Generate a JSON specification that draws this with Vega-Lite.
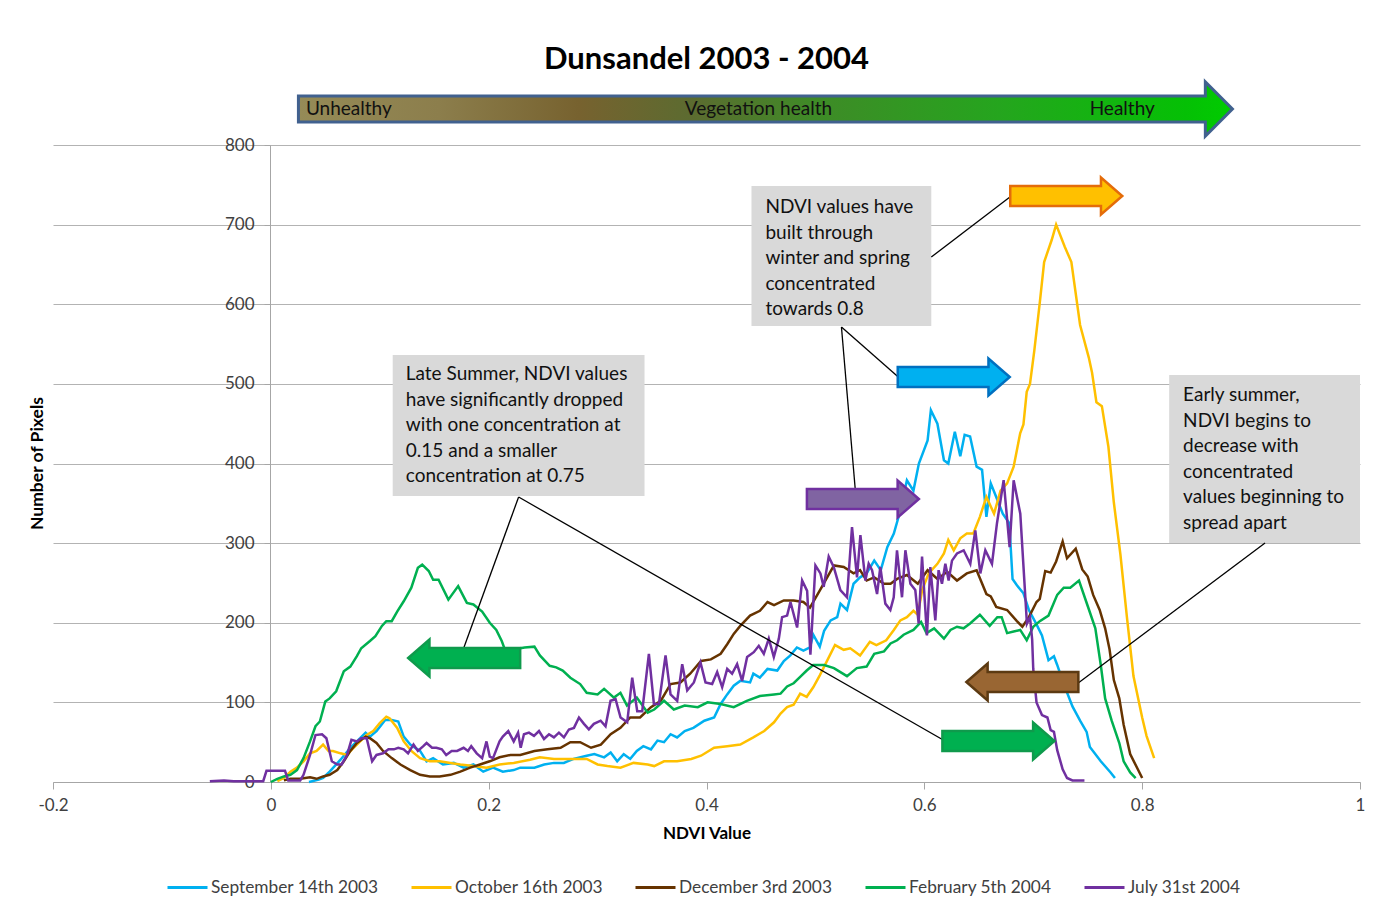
{
 "$schema": "https://vega.github.io/schema/vega-lite/v6.json",
 "width": 1307,
 "height": 637,
 "autosize": {"type": "none"},
 "padding": {"left": 53, "top": 145, "right": 40, "bottom": 130},
 "background": "white",
 "config": {"font": "Lato", "view": {"stroke": null}},
 "title": {"text": "Dunsandel 2003 - 2004", "fontSize": 31, "fontWeight": "bold", "font": "Lato", "color": "#000000", "anchor": "middle", "frame": "group", "offset": 0},
 "datasets": {
  "series": [
   {"s":"September 14th 2003","x":0.035,"y":0},{"s":"September 14th 2003","x":0.044,"y":3},{"s":"September 14th 2003","x":0.048,"y":5},{"s":"September 14th 2003","x":0.054,"y":13},{"s":"September 14th 2003","x":0.064,"y":28},{"s":"September 14th 2003","x":0.073,"y":43},{"s":"September 14th 2003","x":0.082,"y":55},{"s":"September 14th 2003","x":0.087,"y":62},{"s":"September 14th 2003","x":0.091,"y":57},{"s":"September 14th 2003","x":0.097,"y":64},{"s":"September 14th 2003","x":0.105,"y":78},{"s":"September 14th 2003","x":0.111,"y":78},{"s":"September 14th 2003","x":0.117,"y":76},{"s":"September 14th 2003","x":0.122,"y":57},{"s":"September 14th 2003","x":0.128,"y":47},{"s":"September 14th 2003","x":0.137,"y":39},{"s":"September 14th 2003","x":0.143,"y":26},{"s":"September 14th 2003","x":0.149,"y":30},{"s":"September 14th 2003","x":0.158,"y":22},{"s":"September 14th 2003","x":0.168,"y":24},{"s":"September 14th 2003","x":0.177,"y":18},{"s":"September 14th 2003","x":0.186,"y":22},{"s":"September 14th 2003","x":0.195,"y":13},{"s":"September 14th 2003","x":0.204,"y":18},{"s":"September 14th 2003","x":0.213,"y":13},{"s":"September 14th 2003","x":0.223,"y":15},{"s":"September 14th 2003","x":0.229,"y":18},{"s":"September 14th 2003","x":0.242,"y":18},{"s":"September 14th 2003","x":0.251,"y":22},{"s":"September 14th 2003","x":0.26,"y":24},{"s":"September 14th 2003","x":0.269,"y":24},{"s":"September 14th 2003","x":0.278,"y":29},{"s":"September 14th 2003","x":0.29,"y":33},{"s":"September 14th 2003","x":0.297,"y":35},{"s":"September 14th 2003","x":0.306,"y":31},{"s":"September 14th 2003","x":0.312,"y":37},{"s":"September 14th 2003","x":0.318,"y":26},{"s":"September 14th 2003","x":0.324,"y":35},{"s":"September 14th 2003","x":0.33,"y":29},{"s":"September 14th 2003","x":0.336,"y":39},{"s":"September 14th 2003","x":0.342,"y":45},{"s":"September 14th 2003","x":0.349,"y":41},{"s":"September 14th 2003","x":0.355,"y":52},{"s":"September 14th 2003","x":0.361,"y":50},{"s":"September 14th 2003","x":0.367,"y":60},{"s":"September 14th 2003","x":0.373,"y":56},{"s":"September 14th 2003","x":0.38,"y":64},{"s":"September 14th 2003","x":0.388,"y":68},{"s":"September 14th 2003","x":0.398,"y":77},{"s":"September 14th 2003","x":0.407,"y":81},{"s":"September 14th 2003","x":0.413,"y":98},{"s":"September 14th 2003","x":0.419,"y":110},{"s":"September 14th 2003","x":0.425,"y":121},{"s":"September 14th 2003","x":0.431,"y":127},{"s":"September 14th 2003","x":0.44,"y":125},{"s":"September 14th 2003","x":0.443,"y":136},{"s":"September 14th 2003","x":0.449,"y":131},{"s":"September 14th 2003","x":0.456,"y":142},{"s":"September 14th 2003","x":0.465,"y":140},{"s":"September 14th 2003","x":0.471,"y":152},{"s":"September 14th 2003","x":0.477,"y":159},{"s":"September 14th 2003","x":0.483,"y":169},{"s":"September 14th 2003","x":0.489,"y":165},{"s":"September 14th 2003","x":0.495,"y":169},{"s":"September 14th 2003","x":0.498,"y":185},{"s":"September 14th 2003","x":0.504,"y":170},{"s":"September 14th 2003","x":0.508,"y":190},{"s":"September 14th 2003","x":0.514,"y":203},{"s":"September 14th 2003","x":0.52,"y":207},{"s":"September 14th 2003","x":0.523,"y":224},{"s":"September 14th 2003","x":0.529,"y":216},{"s":"September 14th 2003","x":0.535,"y":249},{"s":"September 14th 2003","x":0.541,"y":257},{"s":"September 14th 2003","x":0.547,"y":262},{"s":"September 14th 2003","x":0.554,"y":278},{"s":"September 14th 2003","x":0.56,"y":266},{"s":"September 14th 2003","x":0.566,"y":295},{"s":"September 14th 2003","x":0.572,"y":312},{"s":"September 14th 2003","x":0.578,"y":341},{"s":"September 14th 2003","x":0.584,"y":379},{"s":"September 14th 2003","x":0.59,"y":366},{"s":"September 14th 2003","x":0.595,"y":400},{"s":"September 14th 2003","x":0.603,"y":429},{"s":"September 14th 2003","x":0.606,"y":467},{"s":"September 14th 2003","x":0.612,"y":450},{"s":"September 14th 2003","x":0.618,"y":404},{"s":"September 14th 2003","x":0.622,"y":400},{"s":"September 14th 2003","x":0.628,"y":440},{"s":"September 14th 2003","x":0.633,"y":409},{"s":"September 14th 2003","x":0.637,"y":436},{"s":"September 14th 2003","x":0.642,"y":434},{"s":"September 14th 2003","x":0.648,"y":396},{"s":"September 14th 2003","x":0.653,"y":392},{"s":"September 14th 2003","x":0.657,"y":333},{"s":"September 14th 2003","x":0.661,"y":375},{"s":"September 14th 2003","x":0.666,"y":358},{"s":"September 14th 2003","x":0.672,"y":337},{"s":"September 14th 2003","x":0.678,"y":325},{"s":"September 14th 2003","x":0.681,"y":255},{"s":"September 14th 2003","x":0.685,"y":247},{"s":"September 14th 2003","x":0.691,"y":237},{"s":"September 14th 2003","x":0.696,"y":216},{"s":"September 14th 2003","x":0.703,"y":198},{"s":"September 14th 2003","x":0.708,"y":184},{"s":"September 14th 2003","x":0.714,"y":153},{"s":"September 14th 2003","x":0.719,"y":158},{"s":"September 14th 2003","x":0.722,"y":147},{"s":"September 14th 2003","x":0.728,"y":123},{"s":"September 14th 2003","x":0.736,"y":95},{"s":"September 14th 2003","x":0.743,"y":77},{"s":"September 14th 2003","x":0.749,"y":63},{"s":"September 14th 2003","x":0.752,"y":44},{"s":"September 14th 2003","x":0.762,"y":26},{"s":"September 14th 2003","x":0.771,"y":12},{"s":"September 14th 2003","x":0.775,"y":5},
   {"s":"October 16th 2003","x":0.006,"y":1},{"s":"October 16th 2003","x":0.012,"y":5},{"s":"October 16th 2003","x":0.018,"y":13},{"s":"October 16th 2003","x":0.024,"y":18},{"s":"October 16th 2003","x":0.03,"y":26},{"s":"October 16th 2003","x":0.036,"y":36},{"s":"October 16th 2003","x":0.042,"y":39},{"s":"October 16th 2003","x":0.048,"y":47},{"s":"October 16th 2003","x":0.053,"y":39},{"s":"October 16th 2003","x":0.057,"y":39},{"s":"October 16th 2003","x":0.064,"y":36},{"s":"October 16th 2003","x":0.07,"y":34},{"s":"October 16th 2003","x":0.076,"y":43},{"s":"October 16th 2003","x":0.082,"y":51},{"s":"October 16th 2003","x":0.088,"y":59},{"s":"October 16th 2003","x":0.094,"y":64},{"s":"October 16th 2003","x":0.1,"y":74},{"s":"October 16th 2003","x":0.106,"y":82},{"s":"October 16th 2003","x":0.109,"y":80},{"s":"October 16th 2003","x":0.116,"y":68},{"s":"October 16th 2003","x":0.122,"y":51},{"s":"October 16th 2003","x":0.129,"y":39},{"s":"October 16th 2003","x":0.137,"y":30},{"s":"October 16th 2003","x":0.146,"y":26},{"s":"October 16th 2003","x":0.155,"y":26},{"s":"October 16th 2003","x":0.165,"y":24},{"s":"October 16th 2003","x":0.174,"y":22},{"s":"October 16th 2003","x":0.186,"y":20},{"s":"October 16th 2003","x":0.198,"y":18},{"s":"October 16th 2003","x":0.21,"y":22},{"s":"October 16th 2003","x":0.223,"y":24},{"s":"October 16th 2003","x":0.238,"y":28},{"s":"October 16th 2003","x":0.247,"y":31},{"s":"October 16th 2003","x":0.26,"y":29},{"s":"October 16th 2003","x":0.275,"y":29},{"s":"October 16th 2003","x":0.29,"y":29},{"s":"October 16th 2003","x":0.3,"y":22},{"s":"October 16th 2003","x":0.309,"y":20},{"s":"October 16th 2003","x":0.321,"y":18},{"s":"October 16th 2003","x":0.333,"y":24},{"s":"October 16th 2003","x":0.346,"y":22},{"s":"October 16th 2003","x":0.352,"y":20},{"s":"October 16th 2003","x":0.361,"y":26},{"s":"October 16th 2003","x":0.373,"y":26},{"s":"October 16th 2003","x":0.386,"y":29},{"s":"October 16th 2003","x":0.395,"y":33},{"s":"October 16th 2003","x":0.407,"y":43},{"s":"October 16th 2003","x":0.419,"y":45},{"s":"October 16th 2003","x":0.431,"y":47},{"s":"October 16th 2003","x":0.443,"y":56},{"s":"October 16th 2003","x":0.453,"y":64},{"s":"October 16th 2003","x":0.462,"y":75},{"s":"October 16th 2003","x":0.468,"y":86},{"s":"October 16th 2003","x":0.474,"y":94},{"s":"October 16th 2003","x":0.48,"y":97},{"s":"October 16th 2003","x":0.486,"y":111},{"s":"October 16th 2003","x":0.492,"y":107},{"s":"October 16th 2003","x":0.498,"y":119},{"s":"October 16th 2003","x":0.504,"y":134},{"s":"October 16th 2003","x":0.511,"y":153},{"s":"October 16th 2003","x":0.518,"y":172},{"s":"October 16th 2003","x":0.526,"y":166},{"s":"October 16th 2003","x":0.532,"y":168},{"s":"October 16th 2003","x":0.541,"y":159},{"s":"October 16th 2003","x":0.55,"y":176},{"s":"October 16th 2003","x":0.556,"y":172},{"s":"October 16th 2003","x":0.565,"y":178},{"s":"October 16th 2003","x":0.572,"y":191},{"s":"October 16th 2003","x":0.578,"y":203},{"s":"October 16th 2003","x":0.584,"y":207},{"s":"October 16th 2003","x":0.59,"y":215},{"s":"October 16th 2003","x":0.594,"y":210},{"s":"October 16th 2003","x":0.598,"y":241},{"s":"October 16th 2003","x":0.604,"y":262},{"s":"October 16th 2003","x":0.612,"y":274},{"s":"October 16th 2003","x":0.618,"y":287},{"s":"October 16th 2003","x":0.622,"y":304},{"s":"October 16th 2003","x":0.627,"y":291},{"s":"October 16th 2003","x":0.633,"y":306},{"s":"October 16th 2003","x":0.639,"y":312},{"s":"October 16th 2003","x":0.645,"y":312},{"s":"October 16th 2003","x":0.651,"y":333},{"s":"October 16th 2003","x":0.657,"y":358},{"s":"October 16th 2003","x":0.664,"y":337},{"s":"October 16th 2003","x":0.67,"y":366},{"s":"October 16th 2003","x":0.676,"y":375},{"s":"October 16th 2003","x":0.682,"y":396},{"s":"October 16th 2003","x":0.688,"y":438},{"s":"October 16th 2003","x":0.691,"y":449},{"s":"October 16th 2003","x":0.694,"y":490},{"s":"October 16th 2003","x":0.697,"y":500},{"s":"October 16th 2003","x":0.701,"y":542},{"s":"October 16th 2003","x":0.706,"y":602},{"s":"October 16th 2003","x":0.71,"y":653},{"s":"October 16th 2003","x":0.717,"y":681},{"s":"October 16th 2003","x":0.721,"y":700},{"s":"October 16th 2003","x":0.729,"y":672},{"s":"October 16th 2003","x":0.735,"y":653},{"s":"October 16th 2003","x":0.743,"y":574},{"s":"October 16th 2003","x":0.751,"y":533},{"s":"October 16th 2003","x":0.754,"y":514},{"s":"October 16th 2003","x":0.758,"y":477},{"s":"October 16th 2003","x":0.763,"y":472},{"s":"October 16th 2003","x":0.769,"y":421},{"s":"October 16th 2003","x":0.774,"y":351},{"s":"October 16th 2003","x":0.78,"y":286},{"s":"October 16th 2003","x":0.786,"y":207},{"s":"October 16th 2003","x":0.792,"y":133},{"s":"October 16th 2003","x":0.8,"y":81},{"s":"October 16th 2003","x":0.804,"y":58},{"s":"October 16th 2003","x":0.811,"y":30},
   {"s":"December 3rd 2003","x":0.012,"y":2},{"s":"December 3rd 2003","x":0.018,"y":4},{"s":"December 3rd 2003","x":0.027,"y":4},{"s":"December 3rd 2003","x":0.036,"y":6},{"s":"December 3rd 2003","x":0.042,"y":4},{"s":"December 3rd 2003","x":0.048,"y":7},{"s":"December 3rd 2003","x":0.054,"y":9},{"s":"December 3rd 2003","x":0.061,"y":15},{"s":"December 3rd 2003","x":0.067,"y":26},{"s":"December 3rd 2003","x":0.073,"y":39},{"s":"December 3rd 2003","x":0.079,"y":49},{"s":"December 3rd 2003","x":0.087,"y":57},{"s":"December 3rd 2003","x":0.091,"y":55},{"s":"December 3rd 2003","x":0.097,"y":49},{"s":"December 3rd 2003","x":0.103,"y":39},{"s":"December 3rd 2003","x":0.111,"y":30},{"s":"December 3rd 2003","x":0.119,"y":22},{"s":"December 3rd 2003","x":0.128,"y":15},{"s":"December 3rd 2003","x":0.137,"y":9},{"s":"December 3rd 2003","x":0.146,"y":7},{"s":"December 3rd 2003","x":0.155,"y":7},{"s":"December 3rd 2003","x":0.165,"y":9},{"s":"December 3rd 2003","x":0.174,"y":13},{"s":"December 3rd 2003","x":0.183,"y":18},{"s":"December 3rd 2003","x":0.192,"y":22},{"s":"December 3rd 2003","x":0.201,"y":26},{"s":"December 3rd 2003","x":0.21,"y":31},{"s":"December 3rd 2003","x":0.22,"y":34},{"s":"December 3rd 2003","x":0.229,"y":34},{"s":"December 3rd 2003","x":0.242,"y":39},{"s":"December 3rd 2003","x":0.254,"y":41},{"s":"December 3rd 2003","x":0.266,"y":43},{"s":"December 3rd 2003","x":0.275,"y":50},{"s":"December 3rd 2003","x":0.284,"y":50},{"s":"December 3rd 2003","x":0.294,"y":43},{"s":"December 3rd 2003","x":0.303,"y":47},{"s":"December 3rd 2003","x":0.312,"y":60},{"s":"December 3rd 2003","x":0.321,"y":68},{"s":"December 3rd 2003","x":0.33,"y":81},{"s":"December 3rd 2003","x":0.339,"y":81},{"s":"December 3rd 2003","x":0.349,"y":94},{"s":"December 3rd 2003","x":0.358,"y":102},{"s":"December 3rd 2003","x":0.367,"y":123},{"s":"December 3rd 2003","x":0.376,"y":125},{"s":"December 3rd 2003","x":0.385,"y":136},{"s":"December 3rd 2003","x":0.395,"y":152},{"s":"December 3rd 2003","x":0.404,"y":154},{"s":"December 3rd 2003","x":0.413,"y":161},{"s":"December 3rd 2003","x":0.419,"y":173},{"s":"December 3rd 2003","x":0.425,"y":186},{"s":"December 3rd 2003","x":0.431,"y":196},{"s":"December 3rd 2003","x":0.44,"y":209},{"s":"December 3rd 2003","x":0.449,"y":215},{"s":"December 3rd 2003","x":0.456,"y":226},{"s":"December 3rd 2003","x":0.462,"y":222},{"s":"December 3rd 2003","x":0.471,"y":228},{"s":"December 3rd 2003","x":0.48,"y":228},{"s":"December 3rd 2003","x":0.489,"y":226},{"s":"December 3rd 2003","x":0.495,"y":219},{"s":"December 3rd 2003","x":0.505,"y":243},{"s":"December 3rd 2003","x":0.517,"y":272},{"s":"December 3rd 2003","x":0.526,"y":270},{"s":"December 3rd 2003","x":0.535,"y":262},{"s":"December 3rd 2003","x":0.541,"y":266},{"s":"December 3rd 2003","x":0.547,"y":253},{"s":"December 3rd 2003","x":0.554,"y":257},{"s":"December 3rd 2003","x":0.563,"y":249},{"s":"December 3rd 2003","x":0.569,"y":249},{"s":"December 3rd 2003","x":0.575,"y":255},{"s":"December 3rd 2003","x":0.584,"y":260},{"s":"December 3rd 2003","x":0.594,"y":249},{"s":"December 3rd 2003","x":0.603,"y":266},{"s":"December 3rd 2003","x":0.612,"y":255},{"s":"December 3rd 2003","x":0.621,"y":264},{"s":"December 3rd 2003","x":0.63,"y":253},{"s":"December 3rd 2003","x":0.639,"y":262},{"s":"December 3rd 2003","x":0.648,"y":266},{"s":"December 3rd 2003","x":0.657,"y":236},{"s":"December 3rd 2003","x":0.661,"y":233},{"s":"December 3rd 2003","x":0.666,"y":220},{"s":"December 3rd 2003","x":0.676,"y":216},{"s":"December 3rd 2003","x":0.685,"y":202},{"s":"December 3rd 2003","x":0.69,"y":195},{"s":"December 3rd 2003","x":0.696,"y":207},{"s":"December 3rd 2003","x":0.703,"y":226},{"s":"December 3rd 2003","x":0.706,"y":230},{"s":"December 3rd 2003","x":0.711,"y":265},{"s":"December 3rd 2003","x":0.716,"y":263},{"s":"December 3rd 2003","x":0.721,"y":277},{"s":"December 3rd 2003","x":0.727,"y":302},{"s":"December 3rd 2003","x":0.731,"y":281},{"s":"December 3rd 2003","x":0.739,"y":293},{"s":"December 3rd 2003","x":0.745,"y":267},{"s":"December 3rd 2003","x":0.75,"y":258},{"s":"December 3rd 2003","x":0.755,"y":235},{"s":"December 3rd 2003","x":0.761,"y":216},{"s":"December 3rd 2003","x":0.766,"y":193},{"s":"December 3rd 2003","x":0.77,"y":167},{"s":"December 3rd 2003","x":0.774,"y":128},{"s":"December 3rd 2003","x":0.779,"y":105},{"s":"December 3rd 2003","x":0.783,"y":72},{"s":"December 3rd 2003","x":0.789,"y":35},{"s":"December 3rd 2003","x":0.796,"y":16},{"s":"December 3rd 2003","x":0.8,"y":5},
   {"s":"February 5th 2004","x":0.0,"y":0},{"s":"February 5th 2004","x":0.006,"y":4},{"s":"February 5th 2004","x":0.012,"y":7},{"s":"February 5th 2004","x":0.018,"y":9},{"s":"February 5th 2004","x":0.024,"y":15},{"s":"February 5th 2004","x":0.03,"y":30},{"s":"February 5th 2004","x":0.036,"y":51},{"s":"February 5th 2004","x":0.041,"y":70},{"s":"February 5th 2004","x":0.045,"y":76},{"s":"February 5th 2004","x":0.05,"y":101},{"s":"February 5th 2004","x":0.054,"y":105},{"s":"February 5th 2004","x":0.06,"y":114},{"s":"February 5th 2004","x":0.067,"y":139},{"s":"February 5th 2004","x":0.073,"y":145},{"s":"February 5th 2004","x":0.079,"y":158},{"s":"February 5th 2004","x":0.083,"y":168},{"s":"February 5th 2004","x":0.091,"y":177},{"s":"February 5th 2004","x":0.096,"y":183},{"s":"February 5th 2004","x":0.102,"y":196},{"s":"February 5th 2004","x":0.106,"y":202},{"s":"February 5th 2004","x":0.111,"y":202},{"s":"February 5th 2004","x":0.116,"y":214},{"s":"February 5th 2004","x":0.122,"y":227},{"s":"February 5th 2004","x":0.129,"y":244},{"s":"February 5th 2004","x":0.135,"y":269},{"s":"February 5th 2004","x":0.139,"y":273},{"s":"February 5th 2004","x":0.145,"y":265},{"s":"February 5th 2004","x":0.149,"y":254},{"s":"February 5th 2004","x":0.154,"y":254},{"s":"February 5th 2004","x":0.163,"y":229},{"s":"February 5th 2004","x":0.172,"y":246},{"s":"February 5th 2004","x":0.18,"y":225},{"s":"February 5th 2004","x":0.186,"y":223},{"s":"February 5th 2004","x":0.194,"y":214},{"s":"February 5th 2004","x":0.201,"y":200},{"s":"February 5th 2004","x":0.207,"y":191},{"s":"February 5th 2004","x":0.212,"y":177},{"s":"February 5th 2004","x":0.215,"y":166},{"s":"February 5th 2004","x":0.223,"y":166},{"s":"February 5th 2004","x":0.229,"y":168},{"s":"February 5th 2004","x":0.233,"y":169},{"s":"February 5th 2004","x":0.242,"y":170},{"s":"February 5th 2004","x":0.247,"y":159},{"s":"February 5th 2004","x":0.256,"y":146},{"s":"February 5th 2004","x":0.262,"y":144},{"s":"February 5th 2004","x":0.268,"y":140},{"s":"February 5th 2004","x":0.275,"y":131},{"s":"February 5th 2004","x":0.284,"y":123},{"s":"February 5th 2004","x":0.29,"y":112},{"s":"February 5th 2004","x":0.3,"y":110},{"s":"February 5th 2004","x":0.306,"y":117},{"s":"February 5th 2004","x":0.315,"y":106},{"s":"February 5th 2004","x":0.321,"y":112},{"s":"February 5th 2004","x":0.327,"y":96},{"s":"February 5th 2004","x":0.336,"y":106},{"s":"February 5th 2004","x":0.346,"y":87},{"s":"February 5th 2004","x":0.352,"y":91},{"s":"February 5th 2004","x":0.361,"y":102},{"s":"February 5th 2004","x":0.37,"y":91},{"s":"February 5th 2004","x":0.38,"y":96},{"s":"February 5th 2004","x":0.392,"y":94},{"s":"February 5th 2004","x":0.401,"y":100},{"s":"February 5th 2004","x":0.413,"y":98},{"s":"February 5th 2004","x":0.425,"y":94},{"s":"February 5th 2004","x":0.437,"y":102},{"s":"February 5th 2004","x":0.449,"y":108},{"s":"February 5th 2004","x":0.462,"y":110},{"s":"February 5th 2004","x":0.468,"y":111},{"s":"February 5th 2004","x":0.474,"y":120},{"s":"February 5th 2004","x":0.48,"y":124},{"s":"February 5th 2004","x":0.486,"y":132},{"s":"February 5th 2004","x":0.492,"y":140},{"s":"February 5th 2004","x":0.498,"y":147},{"s":"February 5th 2004","x":0.508,"y":147},{"s":"February 5th 2004","x":0.517,"y":143},{"s":"February 5th 2004","x":0.529,"y":133},{"s":"February 5th 2004","x":0.538,"y":143},{"s":"February 5th 2004","x":0.547,"y":145},{"s":"February 5th 2004","x":0.554,"y":161},{"s":"February 5th 2004","x":0.563,"y":164},{"s":"February 5th 2004","x":0.569,"y":174},{"s":"February 5th 2004","x":0.575,"y":178},{"s":"February 5th 2004","x":0.581,"y":185},{"s":"February 5th 2004","x":0.59,"y":191},{"s":"February 5th 2004","x":0.597,"y":201},{"s":"February 5th 2004","x":0.602,"y":187},{"s":"February 5th 2004","x":0.609,"y":193},{"s":"February 5th 2004","x":0.618,"y":180},{"s":"February 5th 2004","x":0.624,"y":191},{"s":"February 5th 2004","x":0.63,"y":195},{"s":"February 5th 2004","x":0.636,"y":193},{"s":"February 5th 2004","x":0.642,"y":199},{"s":"February 5th 2004","x":0.651,"y":210},{"s":"February 5th 2004","x":0.66,"y":196},{"s":"February 5th 2004","x":0.667,"y":207},{"s":"February 5th 2004","x":0.671,"y":207},{"s":"February 5th 2004","x":0.676,"y":187},{"s":"February 5th 2004","x":0.682,"y":189},{"s":"February 5th 2004","x":0.688,"y":191},{"s":"February 5th 2004","x":0.694,"y":178},{"s":"February 5th 2004","x":0.7,"y":195},{"s":"February 5th 2004","x":0.706,"y":202},{"s":"February 5th 2004","x":0.714,"y":209},{"s":"February 5th 2004","x":0.722,"y":235},{"s":"February 5th 2004","x":0.728,"y":244},{"s":"February 5th 2004","x":0.734,"y":244},{"s":"February 5th 2004","x":0.742,"y":253},{"s":"February 5th 2004","x":0.75,"y":221},{"s":"February 5th 2004","x":0.757,"y":193},{"s":"February 5th 2004","x":0.762,"y":147},{"s":"February 5th 2004","x":0.766,"y":105},{"s":"February 5th 2004","x":0.772,"y":77},{"s":"February 5th 2004","x":0.779,"y":49},{"s":"February 5th 2004","x":0.783,"y":26},{"s":"February 5th 2004","x":0.789,"y":12},{"s":"February 5th 2004","x":0.794,"y":5},
   {"s":"July 31st 2004","x":-0.056,"y":1},{"s":"July 31st 2004","x":-0.043,"y":2},{"s":"July 31st 2004","x":-0.034,"y":1},{"s":"July 31st 2004","x":-0.007,"y":1},{"s":"July 31st 2004","x":-0.004,"y":14},{"s":"July 31st 2004","x":0.013,"y":14},{"s":"July 31st 2004","x":0.016,"y":2},{"s":"July 31st 2004","x":0.027,"y":2},{"s":"July 31st 2004","x":0.03,"y":9},{"s":"July 31st 2004","x":0.036,"y":34},{"s":"July 31st 2004","x":0.041,"y":59},{"s":"July 31st 2004","x":0.047,"y":60},{"s":"July 31st 2004","x":0.051,"y":55},{"s":"July 31st 2004","x":0.056,"y":26},{"s":"July 31st 2004","x":0.061,"y":22},{"s":"July 31st 2004","x":0.065,"y":22},{"s":"July 31st 2004","x":0.07,"y":34},{"s":"July 31st 2004","x":0.074,"y":53},{"s":"July 31st 2004","x":0.079,"y":51},{"s":"July 31st 2004","x":0.083,"y":55},{"s":"July 31st 2004","x":0.088,"y":55},{"s":"July 31st 2004","x":0.093,"y":26},{"s":"July 31st 2004","x":0.097,"y":34},{"s":"July 31st 2004","x":0.103,"y":36},{"s":"July 31st 2004","x":0.108,"y":41},{"s":"July 31st 2004","x":0.113,"y":41},{"s":"July 31st 2004","x":0.117,"y":43},{"s":"July 31st 2004","x":0.122,"y":41},{"s":"July 31st 2004","x":0.126,"y":36},{"s":"July 31st 2004","x":0.131,"y":47},{"s":"July 31st 2004","x":0.135,"y":39},{"s":"July 31st 2004","x":0.14,"y":45},{"s":"July 31st 2004","x":0.143,"y":49},{"s":"July 31st 2004","x":0.148,"y":43},{"s":"July 31st 2004","x":0.152,"y":43},{"s":"July 31st 2004","x":0.157,"y":41},{"s":"July 31st 2004","x":0.161,"y":34},{"s":"July 31st 2004","x":0.166,"y":39},{"s":"July 31st 2004","x":0.171,"y":39},{"s":"July 31st 2004","x":0.177,"y":43},{"s":"July 31st 2004","x":0.181,"y":39},{"s":"July 31st 2004","x":0.184,"y":45},{"s":"July 31st 2004","x":0.189,"y":36},{"s":"July 31st 2004","x":0.194,"y":30},{"s":"July 31st 2004","x":0.198,"y":51},{"s":"July 31st 2004","x":0.201,"y":32},{"s":"July 31st 2004","x":0.204,"y":30},{"s":"July 31st 2004","x":0.21,"y":51},{"s":"July 31st 2004","x":0.213,"y":57},{"s":"July 31st 2004","x":0.218,"y":64},{"s":"July 31st 2004","x":0.223,"y":51},{"s":"July 31st 2004","x":0.227,"y":62},{"s":"July 31st 2004","x":0.2294,"y":43},{"s":"July 31st 2004","x":0.2324,"y":60},{"s":"July 31st 2004","x":0.237,"y":62},{"s":"July 31st 2004","x":0.2416,"y":58},{"s":"July 31st 2004","x":0.2462,"y":64},{"s":"July 31st 2004","x":0.2508,"y":54},{"s":"July 31st 2004","x":0.2554,"y":60},{"s":"July 31st 2004","x":0.2599,"y":56},{"s":"July 31st 2004","x":0.2645,"y":62},{"s":"July 31st 2004","x":0.2691,"y":56},{"s":"July 31st 2004","x":0.2737,"y":66},{"s":"July 31st 2004","x":0.2783,"y":68},{"s":"July 31st 2004","x":0.2829,"y":81},{"s":"July 31st 2004","x":0.2875,"y":73},{"s":"July 31st 2004","x":0.292,"y":66},{"s":"July 31st 2004","x":0.2966,"y":73},{"s":"July 31st 2004","x":0.3028,"y":77},{"s":"July 31st 2004","x":0.3073,"y":70},{"s":"July 31st 2004","x":0.3119,"y":102},{"s":"July 31st 2004","x":0.3165,"y":104},{"s":"July 31st 2004","x":0.3211,"y":81},{"s":"July 31st 2004","x":0.3272,"y":75},{"s":"July 31st 2004","x":0.3318,"y":131},{"s":"July 31st 2004","x":0.3364,"y":89},{"s":"July 31st 2004","x":0.341,"y":89},{"s":"July 31st 2004","x":0.3471,"y":161},{"s":"July 31st 2004","x":0.3517,"y":98},{"s":"July 31st 2004","x":0.3563,"y":98},{"s":"July 31st 2004","x":0.3624,"y":159},{"s":"July 31st 2004","x":0.367,"y":110},{"s":"July 31st 2004","x":0.3731,"y":102},{"s":"July 31st 2004","x":0.3777,"y":148},{"s":"July 31st 2004","x":0.3823,"y":115},{"s":"July 31st 2004","x":0.3884,"y":125},{"s":"July 31st 2004","x":0.3945,"y":150},{"s":"July 31st 2004","x":0.3991,"y":125},{"s":"July 31st 2004","x":0.4052,"y":123},{"s":"July 31st 2004","x":0.4098,"y":138},{"s":"July 31st 2004","x":0.4144,"y":119},{"s":"July 31st 2004","x":0.419,"y":142},{"s":"July 31st 2004","x":0.4235,"y":136},{"s":"July 31st 2004","x":0.4281,"y":148},{"s":"July 31st 2004","x":0.4327,"y":127},{"s":"July 31st 2004","x":0.4373,"y":157},{"s":"July 31st 2004","x":0.4434,"y":163},{"s":"July 31st 2004","x":0.448,"y":171},{"s":"July 31st 2004","x":0.4526,"y":161},{"s":"July 31st 2004","x":0.4572,"y":180},{"s":"July 31st 2004","x":0.4618,"y":157},{"s":"July 31st 2004","x":0.4664,"y":180},{"s":"July 31st 2004","x":0.4694,"y":207},{"s":"July 31st 2004","x":0.474,"y":209},{"s":"July 31st 2004","x":0.4771,"y":226},{"s":"July 31st 2004","x":0.4832,"y":194},{"s":"July 31st 2004","x":0.4878,"y":253},{"s":"July 31st 2004","x":0.4924,"y":240},{"s":"July 31st 2004","x":0.4954,"y":160},{"s":"July 31st 2004","x":0.5,"y":272},{"s":"July 31st 2004","x":0.5046,"y":262},{"s":"July 31st 2004","x":0.5076,"y":245},{"s":"July 31st 2004","x":0.5122,"y":283},{"s":"July 31st 2004","x":0.5168,"y":270},{"s":"July 31st 2004","x":0.5229,"y":241},{"s":"July 31st 2004","x":0.529,"y":232},{"s":"July 31st 2004","x":0.5336,"y":320},{"s":"July 31st 2004","x":0.5382,"y":257},{"s":"July 31st 2004","x":0.5413,"y":310},{"s":"July 31st 2004","x":0.5459,"y":253},{"s":"July 31st 2004","x":0.5489,"y":274},{"s":"July 31st 2004","x":0.552,"y":266},{"s":"July 31st 2004","x":0.5566,"y":236},{"s":"July 31st 2004","x":0.5596,"y":270},{"s":"July 31st 2004","x":0.5642,"y":224},{"s":"July 31st 2004","x":0.5688,"y":216},{"s":"July 31st 2004","x":0.5719,"y":232},{"s":"July 31st 2004","x":0.5749,"y":291},{"s":"July 31st 2004","x":0.5795,"y":232},{"s":"July 31st 2004","x":0.5826,"y":291},{"s":"July 31st 2004","x":0.5872,"y":249},{"s":"July 31st 2004","x":0.5917,"y":241},{"s":"July 31st 2004","x":0.5948,"y":199},{"s":"July 31st 2004","x":0.5979,"y":283},{"s":"July 31st 2004","x":0.6024,"y":184},{"s":"July 31st 2004","x":0.6055,"y":270},{"s":"July 31st 2004","x":0.6101,"y":203},{"s":"July 31st 2004","x":0.6131,"y":266},{"s":"July 31st 2004","x":0.6162,"y":249},{"s":"July 31st 2004","x":0.6193,"y":274},{"s":"July 31st 2004","x":0.6223,"y":253},{"s":"July 31st 2004","x":0.6254,"y":278},{"s":"July 31st 2004","x":0.63,"y":287},{"s":"July 31st 2004","x":0.6361,"y":291},{"s":"July 31st 2004","x":0.6422,"y":274},{"s":"July 31st 2004","x":0.6468,"y":316},{"s":"July 31st 2004","x":0.6514,"y":262},{"s":"July 31st 2004","x":0.656,"y":291},{"s":"July 31st 2004","x":0.6621,"y":274},{"s":"July 31st 2004","x":0.6667,"y":325},{"s":"July 31st 2004","x":0.6728,"y":379},{"s":"July 31st 2004","x":0.6783,"y":295},{"s":"July 31st 2004","x":0.682,"y":379},{"s":"July 31st 2004","x":0.6881,"y":337},{"s":"July 31st 2004","x":0.6942,"y":199},{"s":"July 31st 2004","x":0.697,"y":207},{"s":"July 31st 2004","x":0.699,"y":179},{"s":"July 31st 2004","x":0.7,"y":142},{"s":"July 31st 2004","x":0.703,"y":100},{"s":"July 31st 2004","x":0.708,"y":84},{"s":"July 31st 2004","x":0.713,"y":81},{"s":"July 31st 2004","x":0.716,"y":65},{"s":"July 31st 2004","x":0.719,"y":63},{"s":"July 31st 2004","x":0.722,"y":40},{"s":"July 31st 2004","x":0.727,"y":16},{"s":"July 31st 2004","x":0.731,"y":5},{"s":"July 31st 2004","x":0.736,"y":2},{"s":"July 31st 2004","x":0.747,"y":2}
  ],
  "notes": [
   {"x1":0.4413,"x2":0.6064,"y1":748.5,"y2":572.7,"tx":0.4541,"ty":722.1,"t":"NDVI values have\nbuilt through\nwinter and spring\nconcentrated\ntowards 0.8"},
   {"x1":0.1119,"x2":0.3431,"y1":536.3,"y2":359.2,"tx":0.1239,"ty":512.4,"t":"Late Summer, NDVI values\nhave significantly dropped\nwith one concentration at\n0.15 and a smaller\nconcentration at 0.75"},
   {"x1":0.8248,"x2":1.0,"y1":511.1,"y2":300.2,"tx":0.8376,"ty":486.0,"t":"Early summer,\nNDVI begins to\ndecrease with\nconcentrated\nvalues beginning to\nspread apart"}
  ],
  "links": [
   {"x":0.6064,"y":659.3,"x2":0.6798,"y2":736.0},
   {"x":0.5239,"y":571.4,"x2":0.5761,"y2":508.6},
   {"x":0.5239,"y":571.4,"x2":0.5367,"y2":365.5},
   {"x":0.2275,"y":357.9,"x2":0.1771,"y2":168.3},
   {"x":0.2275,"y":357.9,"x2":0.6174,"y2":52.7},
   {"x":0.9128,"y":300.2,"x2":0.7413,"y2":124.3}
  ],
  "arrows": [
   {"id":"orange","dir":"right","x":0.7303,"y":736},
   {"id":"blue","dir":"right","x":0.627,"y":508.6},
   {"id":"purple","dir":"right","x":0.5436,"y":355.4},
   {"id":"greenL","dir":"left","x":0.1775,"y":155.7},
   {"id":"brown","dir":"left","x":0.69,"y":125.6},
   {"id":"greenR","dir":"right","x":0.668,"y":51.5}
  ],
  "band": [{"x":0.4541,"y":845.2}],
  "bandtext": [
   {"x":0.0716,"y":845,"t":"Unhealthy"},
   {"x":0.4477,"y":845,"t":"Vegetation health"},
   {"x":0.7817,"y":845,"t":"Healthy"}
  ]
 },
 "layer": [
  {
   "data": {"name": "series"},
   "mark": {"type": "line", "strokeWidth": 2.5},
   "encoding": {
    "x": {"field": "x", "type": "quantitative", "scale": {"domain": [-0.2, 1], "nice": false, "zero": false},
     "axis": {"title": "NDVI Value", "values": [-0.2, 0, 0.2, 0.4, 0.6, 0.8, 1], "labelExpr": "datum.value < 0 ? '-' + format(abs(datum.value), '.1f') : format(datum.value, '~g')", "grid": false, "domainColor": "#a6a6a6", "tickColor": "#a6a6a6", "tickSize": 7, "labelPadding": 8, "labelFontSize": 17, "labelFont": "Lato", "labelColor": "#404040", "labelFlush": false, "labelOverlap": false, "titleFont": "Lato", "titleFontSize": 17, "titleFontWeight": "bold", "titleColor": "#000000", "titlePadding": 12}},
    "y": {"field": "y", "type": "quantitative", "scale": {"domain": [0, 800], "nice": false},
     "axis": {"title": "Number of Pixels", "values": [0, 100, 200, 300, 400, 500, 600, 700, 800], "offset": -217, "grid": true, "gridColor": "#b3b3b3", "domainColor": "#a6a6a6", "tickColor": "#a6a6a6", "tickSize": 6, "labelPadding": 10, "labelFontSize": 17, "labelFont": "Lato", "labelColor": "#404040", "titleFont": "Lato", "titleFontSize": 17.5, "titleFontWeight": "bold", "titleColor": "#000000", "titleX": -224, "titleY": 318}},
    "color": {"field": "s", "type": "nominal",
     "scale": {"domain": ["September 14th 2003", "October 16th 2003", "December 3rd 2003", "February 5th 2004", "July 31st 2004"], "range": ["#00b0f0", "#ffc000", "#663300", "#00b050", "#7030a0"]},
     "legend": {"orient": "none", "legendX": 113, "legendY": 721, "direction": "horizontal", "title": null, "symbolType": "stroke", "symbolSize": 1600, "symbolStrokeWidth": 3, "labelFontSize": 17.3, "labelFont": "Lato", "labelColor": "#404040", "labelLimit": 400, "columnPadding": 26, "labelOffset": 2}}
   }
  },
  {
   "data": {"name": "notes"},
   "mark": {"type": "rect", "fill": "#d9d9d9"},
   "encoding": {
    "x": {"field": "x1", "type": "quantitative", "scale": {"domain": [-0.2, 1], "nice": false, "zero": false}},
    "x2": {"field": "x2"},
    "y": {"field": "y1", "type": "quantitative", "scale": {"domain": [0, 800], "nice": false}},
    "y2": {"field": "y2"}
   }
  },
  {
   "data": {"name": "links"},
   "mark": {"type": "rule", "color": "#000000", "strokeWidth": 1.3},
   "encoding": {
    "x": {"field": "x", "type": "quantitative", "scale": {"domain": [-0.2, 1], "nice": false, "zero": false}},
    "x2": {"field": "x2"},
    "y": {"field": "y", "type": "quantitative", "scale": {"domain": [0, 800], "nice": false}},
    "y2": {"field": "y2"}
   }
  },
  {
   "data": {"name": "arrows"},
   "mark": {"type": "point", "filled": true, "opacity": 1, "size": 12544, "strokeWidth": 2.5},
   "encoding": {
    "x": {"field": "x", "type": "quantitative", "scale": {"domain": [-0.2, 1], "nice": false, "zero": false}},
    "y": {"field": "y", "type": "quantitative", "scale": {"domain": [0, 800], "nice": false}},
    "shape": {"field": "dir", "type": "nominal", "scale": {"domain": ["right", "left"], "range": ["M-1,-0.18L0.62,-0.18L0.62,-0.33L1,0L0.62,0.33L0.62,0.18L-1,0.18Z", "M1,-0.18L-0.62,-0.18L-0.62,-0.33L-1,0L-0.62,0.33L-0.62,0.18L1,0.18Z"]}, "legend": null},
    "fill": {"field": "id", "type": "nominal", "scale": {"domain": ["orange", "blue", "purple", "greenL", "brown", "greenR"], "range": ["#ffc000", "#00b0f0", "#8064a2", "#00b050", "#996633", "#00b050"]}, "legend": null},
    "stroke": {"field": "id", "type": "nominal", "scale": {"domain": ["orange", "blue", "purple", "greenL", "brown", "greenR"], "range": ["#e46c0a", "#0070c0", "#7030a0", "#0f9a4c", "#5c3a12", "#0f9a4c"]}, "legend": null}
   }
  },
  {
   "data": {"name": "band"},
   "mark": {"type": "point", "filled": true, "opacity": 1, "size": 872356, "strokeWidth": 3, "stroke": "#41618f",
    "shape": "M-1,-0.028L0.942,-0.028L0.942,-0.058L1,0L0.942,0.058L0.942,0.028L-1,0.028Z",
    "fill": {"gradient": "linear", "x1": 0, "y1": 0, "x2": 1, "y2": 0, "stops": [{"offset": 0, "color": "#958b57"}, {"offset": 0.15, "color": "#8c7e4c"}, {"offset": 0.3, "color": "#77622f"}, {"offset": 0.42, "color": "#5c6b30"}, {"offset": 0.55, "color": "#3f8a27"}, {"offset": 0.75, "color": "#25a51e"}, {"offset": 0.95, "color": "#05c005"}, {"offset": 1, "color": "#00cc00"}]}},
   "encoding": {
    "x": {"field": "x", "type": "quantitative", "scale": {"domain": [-0.2, 1], "nice": false, "zero": false}},
    "y": {"field": "y", "type": "quantitative", "scale": {"domain": [0, 800], "nice": false}}
   }
  },
  {
   "data": {"name": "bandtext"},
   "mark": {"type": "text", "fontSize": 19, "font": "Lato", "color": "#111111", "align": "center", "baseline": "middle"},
   "encoding": {
    "x": {"field": "x", "type": "quantitative", "scale": {"domain": [-0.2, 1], "nice": false, "zero": false}},
    "y": {"field": "y", "type": "quantitative", "scale": {"domain": [0, 800], "nice": false}},
    "text": {"field": "t"}
   }
  },
  {
   "data": {"name": "notes"},
   "mark": {"type": "text", "fontSize": 19, "font": "Lato", "color": "#111111", "align": "left", "baseline": "middle", "lineBreak": "\n", "lineHeight": 25.5},
   "encoding": {
    "x": {"field": "tx", "type": "quantitative", "scale": {"domain": [-0.2, 1], "nice": false, "zero": false}},
    "y": {"field": "ty", "type": "quantitative", "scale": {"domain": [0, 800], "nice": false}},
    "text": {"field": "t"}
   }
  }
 ]
}
